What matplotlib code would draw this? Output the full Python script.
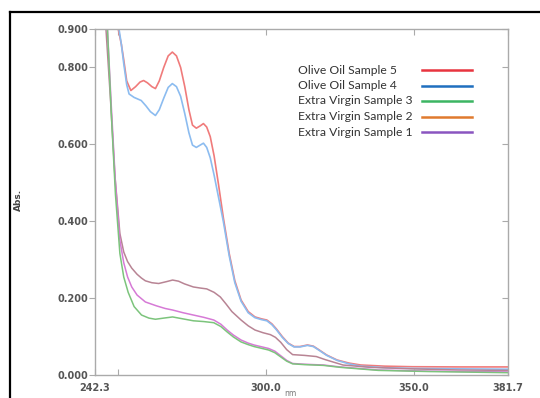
import matplotlib
matplotlib.use('Agg')
import matplotlib.pyplot as plt
from matplotlib.lines import Line2D

# wavelength (nm) / absorbance
s5_x = [248.5, 250.0, 251.2, 252.0, 253.0, 254.4, 256.0, 257.5, 258.7, 260.0, 261.5, 262.7,
        264.0, 265.5, 267.0, 268.4, 269.8, 271.2, 272.6, 274.0, 275.2, 276.5, 277.8, 278.9,
        280.0, 281.2, 282.5, 284.0, 285.6, 287.6, 289.5, 291.6, 294.0, 296.3, 298.5, 300.3,
        302.0, 303.5, 305.5, 307.5, 309.5, 311.5, 314.0, 316.0, 318.0, 320.5, 324.0, 328.0,
        332.0, 340.0, 349.3, 365.0, 381.7]
s5_y = [1.000, 0.905, 0.860, 0.820, 0.765, 0.740, 0.750, 0.762, 0.766, 0.760, 0.750, 0.745,
        0.765, 0.800, 0.830, 0.840, 0.830, 0.800, 0.750, 0.690, 0.650, 0.642, 0.648, 0.654,
        0.645, 0.620, 0.570, 0.495, 0.410, 0.316, 0.245, 0.195, 0.165, 0.151, 0.146, 0.143,
        0.133, 0.120, 0.100, 0.083, 0.074, 0.074, 0.078, 0.075, 0.065, 0.052, 0.039, 0.031,
        0.026, 0.023, 0.0215, 0.021, 0.021]

s4_x = [248.8, 250.3, 251.2, 252.0, 253.0, 253.8, 255.5, 257.9, 259.5, 261.0, 262.7, 264.0,
        265.5, 267.0, 268.4, 269.8, 271.2, 272.6, 274.0, 275.2, 276.5, 277.8, 278.9, 280.0,
        281.2, 282.5, 284.0, 285.6, 287.6, 289.5, 291.6, 294.0, 296.3, 298.5, 300.3, 302.0,
        303.5, 305.5, 307.5, 309.5, 311.5, 314.0, 316.0, 318.0, 320.5, 324.0, 328.0, 332.0,
        340.0, 349.3, 365.0, 381.7]
s4_y = [1.000, 0.905, 0.860, 0.810, 0.755, 0.731, 0.722, 0.714, 0.700, 0.685, 0.675, 0.690,
        0.720, 0.748, 0.758, 0.750, 0.725, 0.680, 0.630, 0.598, 0.592, 0.598, 0.603, 0.592,
        0.565, 0.520, 0.462, 0.400, 0.310, 0.240, 0.192, 0.162, 0.149, 0.144, 0.141, 0.131,
        0.118, 0.098, 0.082, 0.073, 0.073, 0.077, 0.074, 0.064, 0.051, 0.038, 0.029, 0.023,
        0.019, 0.017, 0.016, 0.015]

s2_x = [243.0, 246.0, 247.5, 249.0, 250.7, 252.0, 253.3, 254.7, 256.5, 258.0, 259.3, 261.5,
        263.8, 266.5, 268.5, 270.5, 272.5, 275.5, 278.0, 280.0, 282.5, 284.6, 286.5, 288.5,
        291.6, 294.0, 296.3, 299.0, 301.5, 303.2, 305.0, 307.0, 309.0, 313.0, 317.0, 320.0,
        326.0, 335.0, 349.3, 365.0, 381.7]
s2_y = [1.150, 0.900, 0.720, 0.520, 0.368, 0.320, 0.295, 0.278, 0.262, 0.252, 0.245, 0.240,
        0.238, 0.243, 0.247, 0.244, 0.237, 0.229, 0.226, 0.224, 0.215, 0.203, 0.185, 0.165,
        0.143, 0.128, 0.117, 0.110, 0.105, 0.098, 0.085, 0.066, 0.053, 0.051, 0.048, 0.040,
        0.026, 0.020, 0.016, 0.013, 0.012]

s1_x = [243.0, 246.5, 247.8, 249.2, 250.7, 252.0, 253.3, 254.7, 256.5, 259.3, 263.0, 266.0,
        268.5, 272.0, 275.5, 279.0, 282.4, 284.8, 286.9, 289.0, 291.6, 294.0, 296.0, 300.9,
        303.0, 305.0, 307.0, 309.0, 313.0, 319.4, 325.0, 337.9, 355.0, 381.7]
s1_y = [1.150, 0.900, 0.700, 0.500, 0.350, 0.292, 0.255, 0.229, 0.208, 0.190, 0.180, 0.173,
        0.169, 0.162, 0.156, 0.150, 0.143, 0.132, 0.117, 0.104, 0.091, 0.083, 0.078, 0.069,
        0.062, 0.050, 0.038, 0.030, 0.028, 0.026, 0.021, 0.013, 0.010, 0.008]

s3_x = [243.0, 246.5, 247.8, 249.2, 250.7, 252.0, 253.5, 255.5, 258.0, 260.5, 262.7, 265.5,
        268.5, 272.0, 275.5, 279.0, 282.4, 284.8, 286.9, 289.0, 291.6, 294.0, 296.0, 300.9,
        303.0, 305.0, 307.0, 309.0, 313.0, 319.4, 325.0, 337.9, 355.0, 381.7]
s3_y = [1.150, 0.900, 0.680, 0.470, 0.316, 0.255, 0.215, 0.178, 0.156, 0.148, 0.145, 0.148,
        0.151, 0.146, 0.141, 0.139, 0.136, 0.126, 0.112, 0.099, 0.086, 0.079, 0.074, 0.065,
        0.058, 0.047, 0.036, 0.029, 0.027, 0.025, 0.020, 0.012, 0.009, 0.006]

labels = ['Olive Oil Sample 5', 'Olive Oil Sample 4', 'Extra Virgin Sample 3',
          'Extra Virgin Sample 2', 'Extra Virgin Sample 1']
legend_colors = ['#e8343f', '#1f6fbf', '#3cb563', '#e07a2e', '#8a55c0']

xticks = [242.3, 250.0, 300.0, 350.0, 381.7]
xticklabels = ['242.3', '', '300.0', '350.0', '381.7']
yticks = [0.0, 0.2, 0.4, 0.6, 0.8, 0.9]

fig = plt.figure(figsize=(5.4, 3.98), dpi=100)
ax = fig.add_axes([95 / 540, 1 - 375 / 398, 413 / 540, 346 / 398])

# curves (lighter in the scan than the legend keys)
ax.plot(s5_x, s5_y, color='#f07b7b', lw=1.2)
ax.plot(s4_x, s4_y, color='#8cbcf0', lw=1.2)
ax.plot(s2_x, s2_y, color='#b88494', lw=1.1)
ax.plot(s1_x, s1_y, color='#d67ad6', lw=1.1)
ax.plot(s3_x, s3_y, color='#7cc47c', lw=1.1)

ax.set_xlim(242.3, 381.7)
ax.set_ylim(0, 0.9)
ax.set_xticks(xticks)
ax.set_xticklabels(xticklabels)
ax.set_yticks(yticks)
ax.set_yticklabels([f'{v:.3f}' for v in yticks])

for sp in ax.spines.values():
    sp.set_color('#aaaaaa')
    sp.set_linewidth(1.0)
ax.tick_params(axis='both', colors='#aaaaaa', labelcolor='#555555', labelsize=7)
ax.tick_params(axis='x', direction='in', length=4, top=True, pad=6)
ax.tick_params(axis='y', direction='out', length=4, pad=1, right=True)
for t in ax.yaxis.get_ticklines()[1::2]:
    t.set_marker(0)  # right-side ticks point inward
for lab in ax.get_xticklabels() + ax.get_yticklabels():
    lab.set_fontweight('bold')

# legend: label on the left, key line on the right
row_y = [70, 85.5, 101, 116.5, 132]
for lab, col, py in zip(labels, legend_colors, row_y):
    ya = (375 - py) / 346
    ax.text((298 - 95) / 413, ya, lab, transform=ax.transAxes, ha='left', va='center',
            family='Lato', fontsize=8.7, color='#333333')
    ax.add_line(Line2D([(422 - 95) / 413, (472 - 95) / 413], [ya, ya],
                       transform=ax.transAxes, color=col, lw=1.8))

fig.text(18 / 540, 1 - 200 / 398, 'Abs.', rotation=90, ha='center', va='center',
         fontsize=6.5, color='#444444', fontweight='bold')
fig.text(290 / 540, 0.5 / 398, 'nm', ha='center', va='bottom', fontsize=5.5, color='#777777')

# outer frame of the scanned figure
ytop = 1 - 12 / 398
fig.add_artist(Line2D([10 / 540, 10 / 540], [0, ytop], transform=fig.transFigure,
                      color='black', lw=1.6))
fig.add_artist(Line2D([10 / 540, 1], [ytop, ytop], transform=fig.transFigure,
                      color='black', lw=1.6))

fig.savefig('out.png', dpi=100)
